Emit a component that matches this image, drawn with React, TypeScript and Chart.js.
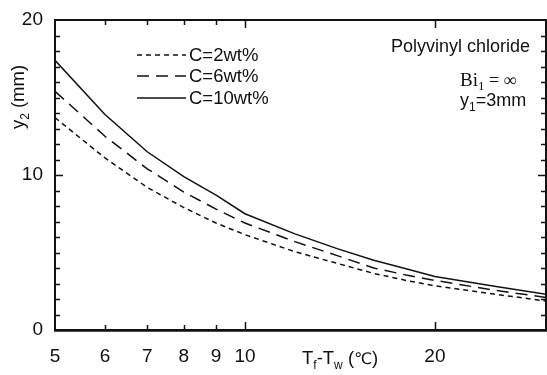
import React, { useEffect, useRef } from "react";
import { Chart, registerables } from "chart.js";

Chart.register(...registerables);

// Temperature difference Tf - Tw (°C)
const xValues = [5, 6, 7, 8, 9, 10, 12, 14, 16, 18, 20, 25, 30];
// y2 (mm) for each concentration
const c2Values = [13.7, 11.1, 9.2, 7.9, 6.9, 6.15, 5.05, 4.3, 3.65, 3.2, 2.85, 2.3, 1.87];
const c6Values = [15.4, 12.5, 10.4, 8.9, 7.8, 6.9, 5.7, 4.8, 4.0, 3.55, 3.2, 2.55, 2.1];
const c10Values = [17.4, 13.9, 11.5, 9.9, 8.7, 7.5, 6.2, 5.25, 4.5, 3.95, 3.45, 2.8, 2.3];
const seriesLabels = ["C=2wt%", "C=6wt%", "C=10wt%"];
const xTickValues = [5, 6, 7, 8, 9, 10, 20];
const yTickValues = [0, 10, 20];
const annotationLines = ["Polyvinyl chloride", "Bi", "y"];

const SANS = "'Liberation Sans', Arial, Helvetica, sans-serif";
const SERIF = "'Liberation Serif', 'Times New Roman', serif";
const INK = "#111";

type Part = { text: string; font: string; dy?: number };

function drawParts(ctx: CanvasRenderingContext2D, parts: Part[], x: number, y: number, align: "left" | "center") {
  let total = 0;
  const widths = parts.map((p) => {
    ctx.font = p.font;
    const w = ctx.measureText(p.text).width;
    total += w;
    return w;
  });
  let cx = align === "center" ? x - total / 2 : x;
  ctx.textAlign = "left";
  ctx.textBaseline = "alphabetic";
  parts.forEach((p, i) => {
    ctx.font = p.font;
    ctx.fillText(p.text, cx, y + (p.dy || 0));
    cx += widths[i];
  });
}

const decorPlugin = {
  id: "decor",
  afterDraw(chart: any) {
    const { ctx, chartArea } = chart;
    const xs = chart.scales.x;
    const ys = chart.scales.y;
    const { left, right, top, bottom } = chartArea;
    ctx.save();
    ctx.strokeStyle = INK;
    ctx.fillStyle = INK;
    ctx.setLineDash([]);
    // frame
    ctx.lineWidth = 2;
    ctx.strokeRect(left, top, right - left, bottom - top);
    ctx.lineWidth = 2.5;
    ctx.beginPath();
    ctx.moveTo(left - 1, bottom + 0.5);
    ctx.lineTo(right + 1, bottom + 0.5);
    ctx.stroke();
    // y ticks (inward) every 1 unit on both sides
    ctx.lineWidth = 1.5;
    for (let v = 1; v < 20; v++) {
      const py = Math.round(ys.getPixelForValue(v)) + 0.5;
      const len = v % 10 === 0 ? 8 : 5;
      ctx.beginPath();
      ctx.moveTo(left, py);
      ctx.lineTo(left + len, py);
      ctx.moveTo(right, py);
      ctx.lineTo(right - len, py);
      ctx.stroke();
    }
    // x ticks (inward) bottom and top
    xTickValues.forEach((v) => {
      if (v === 5) return;
      const px = Math.round(xs.getPixelForValue(v)) + 0.5;
      const len = v % 10 === 0 ? 8 : 5;
      ctx.beginPath();
      ctx.moveTo(px, bottom);
      ctx.lineTo(px, bottom - len);
      ctx.moveTo(px, top);
      ctx.lineTo(px, top + len);
      ctx.stroke();
    });

    // legend
    const legendY = [55, 76, 98];
    chart.data.datasets.forEach((ds: any, i: number) => {
      ctx.save();
      ctx.lineWidth = ds.borderWidth;
      ctx.setLineDash(ds.borderDash || []);
      ctx.beginPath();
      ctx.moveTo(137, legendY[i]);
      ctx.lineTo(186, legendY[i]);
      ctx.stroke();
      ctx.restore();
      ctx.font = `18.5px ${SANS}`;
      ctx.textAlign = "left";
      ctx.textBaseline = "middle";
      ctx.fillText(ds.label, 189, legendY[i] + 1);
    });

    // annotations
    ctx.font = `18px ${SANS}`;
    ctx.textAlign = "left";
    ctx.textBaseline = "middle";
    ctx.fillText(annotationLines[0], 391, 47);
    drawParts(ctx, [
      { text: annotationLines[1], font: `19px ${SERIF}` },
      { text: "1", font: `13px ${SERIF}`, dy: 4 },
      { text: " = ∞", font: `18px ${SERIF}` },
    ], 460, 86, "left");
    drawParts(ctx, [
      { text: annotationLines[2], font: `18px ${SANS}` },
      { text: "1", font: `12px ${SANS}`, dy: 5 },
      { text: "=3mm", font: `18px ${SANS}` },
    ], 460, 106, "left");

    // x title
    drawParts(ctx, [
      { text: "T", font: `18.5px ${SANS}` },
      { text: "f", font: `12px ${SANS}`, dy: 5 },
      { text: "-T", font: `18.5px ${SANS}` },
      { text: "w", font: `12px ${SANS}`, dy: 5 },
      { text: " (", font: `18.5px ${SANS}` },
      { text: "℃", font: `16px 'DejaVu Sans', ${SANS}` },
      { text: ")", font: `18.5px ${SANS}` },
    ], 302, 364, "left");

    // y title (rotated)
    ctx.save();
    ctx.translate(24, 97);
    ctx.rotate(-Math.PI / 2);
    drawParts(ctx, [
      { text: "y", font: `18.5px ${SANS}` },
      { text: "2", font: `12px ${SANS}`, dy: 5 },
      { text: " (mm)", font: `18.5px ${SANS}` },
    ], 0, 0, "center");
    ctx.restore();

    ctx.restore();
  },
};

export default function App() {
  const ref = useRef<HTMLCanvasElement>(null);
  useEffect(() => {
    if (!ref.current) return;
    const mk = (vals: number[]) => xValues.map((x, i) => ({ x, y: vals[i] }));
    const chart = new Chart(ref.current, {
      type: "line",
      data: {
        datasets: [
          { label: seriesLabels[0], data: mk(c2Values), borderColor: INK, borderWidth: 1.5, borderDash: [5, 4], pointRadius: 0, tension: 0, fill: false },
          { label: seriesLabels[1], data: mk(c6Values), borderColor: INK, borderWidth: 1.5, borderDash: [12, 7], pointRadius: 0, tension: 0, fill: false },
          { label: seriesLabels[2], data: mk(c10Values), borderColor: INK, borderWidth: 1.5, pointRadius: 0, tension: 0, fill: false },
        ],
      },
      options: {
        responsive: false,
        animation: false,
        events: [],
        layout: { padding: { top: 20, right: 1, left: 0, bottom: 0 } },
        plugins: { legend: { display: false }, tooltip: { enabled: false } },
        scales: {
          x: {
            type: "logarithmic",
            min: 5,
            max: 30,
            grid: { display: false, drawTicks: false },
            border: { display: false },
            ticks: {
              color: INK,
              font: { family: SANS, size: 19 },
              padding: 15,
              autoSkip: false,
              maxRotation: 0,
              callback: (v: any) => String(v),
            },
            afterBuildTicks: (s: any) => { s.ticks = xTickValues.map((v) => ({ value: v })); },
            afterFit: (s: any) => { s.height = 45; s.paddingLeft = 0; s.paddingRight = 0; },
          },
          y: {
            type: "linear",
            min: 0,
            max: 20,
            grid: { display: false, drawTicks: false },
            border: { display: false },
            ticks: {
              color: INK,
              font: { family: SANS, size: 19 },
              padding: 12,
              callback: (v: any) => String(v),
            },
            afterBuildTicks: (s: any) => { s.ticks = yTickValues.map((v) => ({ value: v })); },
            afterFit: (s: any) => { s.width = 55; s.paddingTop = 0; s.paddingBottom = 0; },
          },
        },
      },
      plugins: [decorPlugin],
    } as any);
    return () => chart.destroy();
  }, []);
  return (
    <div style={{ position: "fixed", left: 0, top: 0, width: 547, height: 375, background: "#fff" }}>
      <canvas ref={ref} width={547} height={375} style={{ display: "block" }} />
    </div>
  );
}
